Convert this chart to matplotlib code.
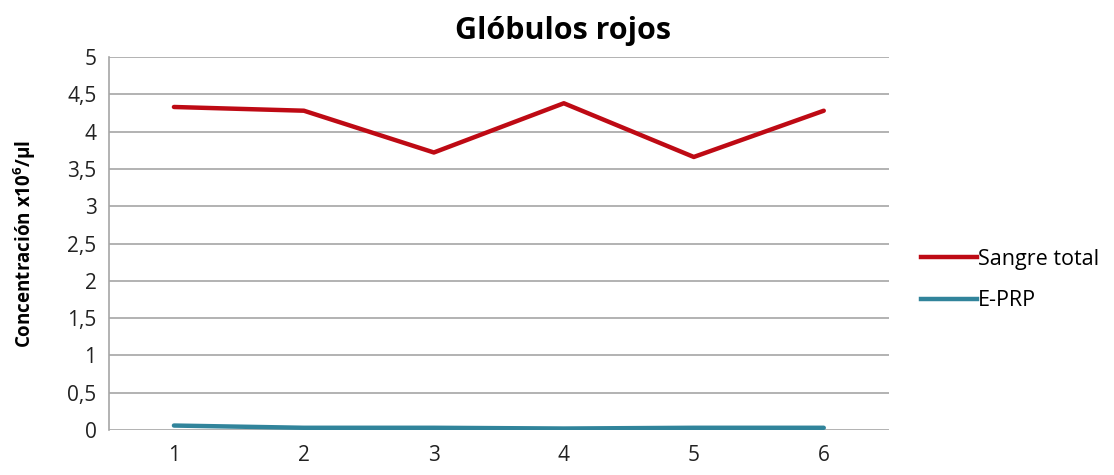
import matplotlib.pyplot as plt
from matplotlib.lines import Line2D

plt.rcParams['font.family'] = ['Open Sans', 'DejaVu Sans']
plt.rcParams['mathtext.fontset'] = 'custom'
plt.rcParams['mathtext.rm'] = 'Open Sans'
plt.rcParams['mathtext.bf'] = 'Open Sans:bold'

# Muestras 1-6, glóbulos rojos (x10^6/µl)
muestras = [1, 2, 3, 4, 5, 6]
sangre_total = [4.33, 4.28, 3.72, 4.38, 3.66, 4.28]
e_prp = [0.06, 0.03, 0.03, 0.02, 0.03, 0.03]
yticks = [0, 0.5, 1, 1.5, 2, 2.5, 3, 3.5, 4, 4.5, 5]
ytick_labels = ["0", "0,5", "1", "1,5", "2", "2,5", "3", "3,5", "4", "4,5", "5"]

fig = plt.figure(figsize=(11.14, 4.75), dpi=100)
ax = fig.add_axes([0.0978, 0.0947, 0.7, 0.7853])

ax.plot(muestras, sangre_total, color="#BE0A14", linewidth=3.2, solid_capstyle="round", zorder=3)
ax.plot(muestras, e_prp, color="#31849B", linewidth=3.2, solid_capstyle="round", zorder=3)

ax.set_xlim(0.5, 6.5)
ax.set_ylim(0, 5)
ax.set_xticks(muestras)
ax.set_yticks(yticks)
ax.set_yticklabels(ytick_labels)
ax.tick_params(axis="both", length=0, labelsize=15, colors="#222222")
ax.tick_params(axis="x", pad=11)
ax.tick_params(axis="y", pad=9)
ax.yaxis.grid(True, color="#A6A6A6", linewidth=1.2)
ax.set_axisbelow(True)
for side in ["top", "right", "bottom"]:
    ax.spines[side].set_visible(False)
ax.spines["left"].set_color("#A6A6A6")
ax.spines["left"].set_linewidth(1.2)

ax.set_ylabel("Concentración x10$^{\\mathbf{6}}$/µl", fontsize=13.5, fontweight="bold")
ax.yaxis.set_label_coords(-0.091, 0.5)

fig.text(0.505, 0.935, "Glóbulos rojos", ha="center", va="center", fontsize=22, fontweight="bold")

legend_lines = [Line2D([0], [0], color="#BE0A14", linewidth=3.2, label="Sangre total"),
                Line2D([0], [0], color="#31849B", linewidth=3.2, label="E-PRP")]
fig.legend(handles=legend_lines, loc="center left", bbox_to_anchor=(0.809, 0.41),
           frameon=False, fontsize=15.5, handlelength=2.6, handletextpad=0.05, labelspacing=0.95)

fig.savefig("out.png", dpi=100)
